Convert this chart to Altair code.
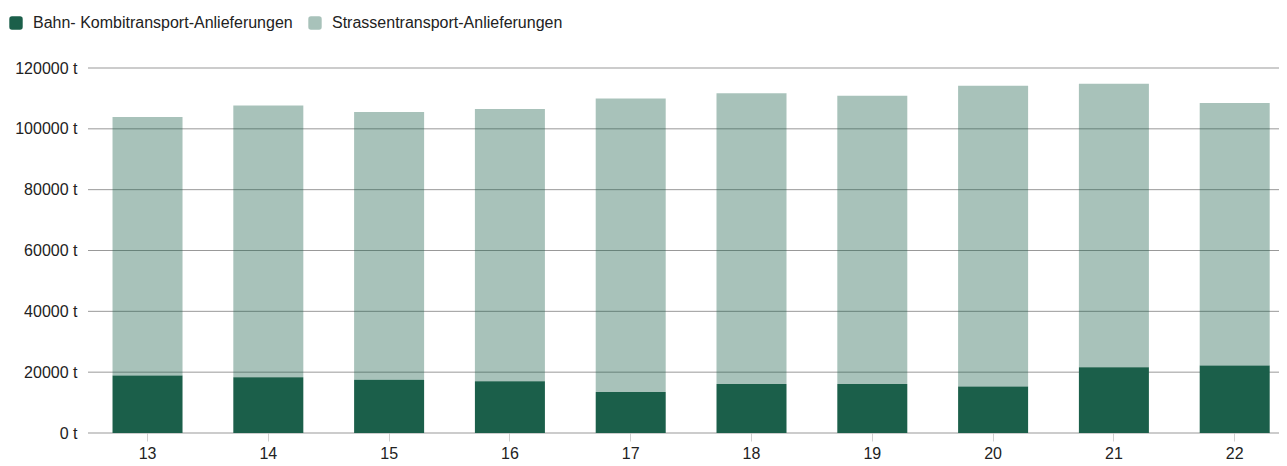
import altair as alt
import pandas as pd

years = ["13", "14", "15", "16", "17", "18", "19", "20", "21", "22"]
bahn = [18900, 18300, 17500, 17000, 13500, 16100, 16100, 15300, 21600, 22200]
total = [103900, 107700, 105500, 106500, 110000, 111700, 110900, 114200, 114800, 108500]
strasse = [t - b for t, b in zip(total, bahn)]
y_ticks = [0, 20000, 40000, 60000, 80000, 100000, 120000]

series = ["Bahn- Kombitransport-Anlieferungen", "Strassentransport-Anlieferungen"]
colors = ["#1b5f4a", "#1b5f4a"]
opacities = [1.0, 0.38]

rows = []
for y, b, s in zip(years, bahn, strasse):
    rows.append({"Jahr": y, "Serie": series[0], "Wert": b, "ord": 0})
    rows.append({"Jahr": y, "Serie": series[1], "Wert": s, "ord": 1})
df = pd.DataFrame(rows)
grid_df = pd.DataFrame({"Wert": y_ticks})

rounded = "M -1 -0.6 Q -1 -1 -0.6 -1 L 0.6 -1 Q 1 -1 1 -0.6 L 1 0.6 Q 1 1 0.6 1 L -0.6 1 Q -1 1 -1 0.6 Z"


def make_legend():
    return alt.Legend(title=None, orient="none", legendX=-80, legendY=-53,
                      direction="horizontal", symbolType=rounded,
                      symbolSize=180, symbolStrokeWidth=0,
                      labelFontSize=16, labelFont="Liberation Sans",
                      labelColor="#222222", labelOffset=9, labelLimit=500,
                      columnPadding=14, padding=0)


def make_yaxis():
    return alt.Axis(title=None, values=y_ticks,
                    labelExpr="datum.value + ' t'", domain=False, ticks=False,
                    grid=False, labelPadding=11, labelFontSize=16,
                    labelColor="#222222", labelFont="Liberation Sans")


yscale = alt.Scale(domain=[0, 120000], nice=False)

grid = alt.Chart(grid_df).mark_rule(color="#999999", strokeWidth=1).encode(
    y=alt.Y("Wert:Q", scale=yscale, axis=make_yaxis())
)

bars = alt.Chart(df).mark_bar().encode(
    x=alt.X("Jahr:N", sort=years,
            scale=alt.Scale(paddingInner=0.4205, paddingOuter=0.14, align=0.725),
            axis=alt.Axis(title=None, labelAngle=0, domain=False, tickSize=8,
                          tickColor="#d0d0d0", labelPadding=4, labelFontSize=16,
                          labelColor="#222222", labelFont="Liberation Sans")),
    y=alt.Y("Wert:Q", stack="zero", scale=yscale, axis=make_yaxis()),
    color=alt.Color("Serie:N", scale=alt.Scale(domain=series, range=colors),
                    legend=make_legend()),
    opacity=alt.Opacity("Serie:N", scale=alt.Scale(domain=series, range=opacities),
                        legend=make_legend()),
    order=alt.Order("ord:Q", sort="ascending"),
)

chart = alt.layer(grid, bars).properties(
    width=1191, height=365,
    autosize=alt.AutoSizeParams(type="none"),
    padding={"left": 80, "top": 60, "right": 0, "bottom": 32},
).configure_view(stroke=None)

chart.save("out.html", embed_options={"renderer": "svg", "actions": False})
